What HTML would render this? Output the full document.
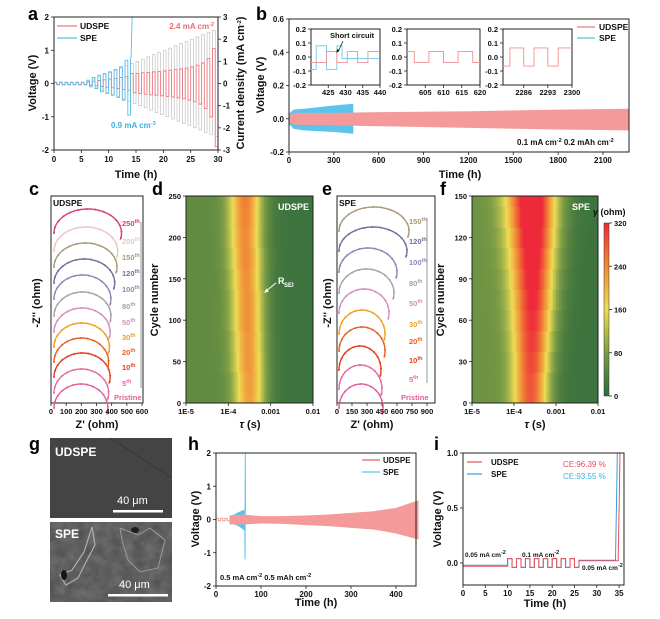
<!DOCTYPE html>
<html><head><meta charset="utf-8"><style>
html,body{margin:0;padding:0;background:#fff;width:660px;height:619px;overflow:hidden}
svg text{font-family:"Liberation Sans",Arial,sans-serif}
</style></head><body>
<svg id="fig" width="660" height="619" viewBox="0 0 660 619" xmlns="http://www.w3.org/2000/svg">
<defs>
<filter id="semNoise" x="0" y="0" width="1" height="1"><feTurbulence type="fractalNoise" baseFrequency="0.09" numOctaves="3" seed="4"/><feColorMatrix type="matrix" values="0 0 0 0 0.55  0 0 0 0 0.55  0 0 0 0 0.55  0 0 0 0.35 0"/><feComposite in2="SourceGraphic" operator="in"/></filter>
<linearGradient id="cbar" x1="0" y1="1" x2="0" y2="0"><stop offset="0" stop-color="#2e6a3c"/><stop offset="0.25" stop-color="#7c9c45"/><stop offset="0.5" stop-color="#eedd55"/><stop offset="0.75" stop-color="#f08a35"/><stop offset="1" stop-color="#ee2a3a"/></linearGradient>
<clipPath id="clipD"><rect x="186" y="196" width="127" height="207"/></clipPath>
<clipPath id="clipF"><rect x="472" y="196" width="126" height="207"/></clipPath>
</defs>
<rect x="0" y="0" width="660" height="619" fill="#fff"/>
</svg>
<script>
// ---------- data ----------
// panel a (per hour 0..29)
const aCurrent=[0.05,0.05,0.05,0.05,0.05,0.05,0.1,0.2,0.3,0.4,0.5,0.6,0.7,0.8,0.9,1.0,1.1,1.2,1.3,1.4,1.5,1.6,1.7,1.8,1.9,2.0,2.1,2.2,2.3,2.4];
const aUdPos=[0.03,0.03,0.03,0.03,0.03,0.03,0.05,0.07,0.09,0.11,0.13,0.15,0.18,0.2,0.3,0.3,0.32,0.33,0.35,0.36,0.38,0.4,0.42,0.44,0.46,0.5,0.55,0.62,0.75,1.05];
const aUdNeg=[-0.03,-0.03,-0.03,-0.03,-0.03,-0.03,-0.05,-0.07,-0.09,-0.11,-0.13,-0.15,-0.18,-0.2,-0.28,-0.3,-0.32,-0.34,-0.35,-0.37,-0.39,-0.41,-0.43,-0.46,-0.5,-0.55,-0.62,-0.75,-1.0,-1.9];
const aSpePos=[0.04,0.04,0.04,0.04,0.04,0.04,0.1,0.18,0.25,0.3,0.35,0.42,0.5,0.7];
const aSpeNeg=[-0.04,-0.04,-0.04,-0.04,-0.04,-0.04,-0.1,-0.15,-0.25,-0.3,-0.35,-0.42,-0.5,-0.95];
const aSpeTailT=[14.0,14.1,14.3];
const aSpeTailV=[0.75,0.8,2.0];
// panel b
const bSpeT=[0,30,100,200,300,430];
const bSpeHi=[0.03,0.055,0.06,0.07,0.08,0.09];
const bSpeLo=[-0.03,-0.06,-0.07,-0.075,-0.08,-0.09];
const bUdT=[0,30,300,600,1200,1800,2274];
const bUdHi=[0.02,0.035,0.035,0.04,0.045,0.055,0.06];
const bUdLo=[-0.02,-0.035,-0.04,-0.045,-0.055,-0.065,-0.07];
const bIn1T=[420,421.5,424.5,427.5,430.5,433.5,436.5,440];
const bIn1Red=[-0.04,-0.04,0.04,-0.04,0.04,-0.04,0.04];
const bIn1BlueT=[420,421.5,424.5,427.5,429,440];
const bIn1Blue=[-0.09,0.08,-0.09,0.08,-0.01];
const bIn2T=[600,602,606,610,614,618,620];
const bIn2Red=[0.04,-0.04,0.04,-0.04,0.04,-0.04];
const bIn3T=[2280,2282,2286,2289,2293,2296,2300];
const bIn3Red=[-0.065,0.065,-0.065,0.065,-0.065,0.065];
// panel c / e (Nyquist arcs)
const cLabels=['Pristine','5','10','20','30','50','80','100','120','150','200','250'];
const cEnd=[375,380,390,380,385,390,395,395,420,435,440,465];
const cColors=['#e0609a','#e86aa0','#e0401e','#e86020','#f0a020','#d090c0','#a8a0a8','#8a88b4','#70709c','#a89a78','#f2c4c4','#d8406e'];
const eLabels=['Pristine','5','10','20','30','50','80','100','120','150'];
const eEnd=[460,450,440,480,480,520,570,600,700,720];
const eColors=['#e0609a','#e86aa0','#e0401e','#e86020','#f0a020','#d090c0','#a8a0a8','#8a88b4','#70709c','#a89a78'];
// panel d / f (DRT heatmaps)
const dCycles=[0,25,50,75,100,125,150,175,200,225,250];
const dCenter=[-3.5,-3.5,-3.52,-3.53,-3.55,-3.55,-3.57,-3.58,-3.6,-3.6,-3.6];
const dAmp=[170,175,180,180,185,185,185,190,190,195,200];
const dWidth=[0.36,0.36,0.37,0.37,0.37,0.37,0.37,0.38,0.38,0.38,0.38];
const fCycles=[0,15,30,45,60,75,90,105,120,135,150];
const fCenter=[-3.6,-3.6,-3.58,-3.57,-3.56,-3.55,-3.55,-3.55,-3.55,-3.56,-3.57];
const fAmp=[220,225,235,245,255,265,275,285,300,315,320];
const fWidth=[0.42,0.42,0.43,0.45,0.47,0.49,0.51,0.53,0.55,0.57,0.58];
// panel h
const hUdT=[30,60,100,150,200,250,300,350,400,450];
const hUdHi=[0.12,0.15,0.1,0.1,0.12,0.15,0.2,0.25,0.35,0.58];
const hUdLo=[-0.15,-0.15,-0.12,-0.13,-0.17,-0.2,-0.25,-0.3,-0.42,-0.6];
const hEarlyT=[0,5,5,10,10,15,15,20,20,25,25,30];
const hEarlyV=[0.04,0.04,-0.04,-0.04,0.04,0.04,-0.04,-0.04,0.04,0.04,-0.04,-0.04];
const hSpeT=[30,40,50,60,64];
const hSpeHi=[0.08,0.15,0.22,0.28,0.3];
const hSpeLo=[-0.08,-0.15,-0.2,-0.3,-0.35];
const hSpikeT=[64,64.5,65,65.5];
const hSpikeV=[-0.4,-1.2,2.0,0.3];
// panel i
const iSegT=[0,10,11,12,13,14,15,16,17,18,19,20,21,22,23,24,25,26];
const iUdLevel=[-0.03,0.04,-0.04,0.04,-0.04,0.04,-0.04,0.04,-0.04,0.04,-0.04,0.04,-0.04,0.04,-0.04,0.04,-0.04,0.02];
const iSpeLevel=[-0.02,0.04,-0.04,0.04,-0.04,0.04,-0.04,0.04,-0.04,0.04,-0.04,0.04,-0.04,0.04,-0.04,0.04,-0.04,0.025];
const iUdRiseT=[34.8,35.0,35.2];
const iUdRiseV=[0.05,0.5,1.0];
const iSpeRiseT=[34.2,34.4,34.6];
const iSpeRiseV=[0.05,0.5,1.0];

// ---------- helpers ----------
const NS='http://www.w3.org/2000/svg';
const svg=document.getElementById('fig');
function mk(tag,attrs,parent){const e=document.createElementNS(NS,tag);for(const k in attrs)e.setAttribute(k,attrs[k]);(parent||svg).appendChild(e);return e;}
function tx(x,y,s,o){o=o||{};const e=mk('text',{x:x,y:y,'font-size':o.fs||8,'font-weight':o.fw||'bold','text-anchor':o.a||'start',fill:o.c||'#111'});if(o.rot)e.setAttribute('transform','rotate('+o.rot+' '+x+' '+y+')');e.innerHTML=s;return e;}
function frame(x0,y0,x1,y1,name){const r=mk('rect',{x:x0,y:y0,width:x1-x0,height:y1-y0,fill:'none',stroke:'#222','stroke-width':1});


return r;}
function tickX(vals,fx,y,labs,fs,ly){vals.forEach((v,i)=>{mk('line',{x1:fx(v),x2:fx(v),y1:y,y2:y+3,stroke:'#222','stroke-width':0.8});const t=tx(fx(v),ly,labs[i],{a:'middle',fs:fs||8});

});}
function tickY(vals,fy,x,labs,side,fs){vals.forEach((v,i)=>{const d=side==='r'?3:-3;mk('line',{x1:x,x2:x+d,y1:fy(v),y2:fy(v),stroke:'#222','stroke-width':0.8});const t=tx(side==='r'?x+5:x-5,fy(v)+3,labs[i],{a:side==='r'?'start':'end',fs:fs||8});

});}
function letter(x,y,s){const t=tx(x,y,s,{fs:18,c:'#000'});

}
function sup(s){return '<tspan baseline-shift="super" font-size="5.5">'+s+'</tspan>';}
function sqPath(T,L,fx,fy){let d='';for(let i=0;i<L.length;i++){d+=(i?'L':'M')+fx(T[i])+' '+fy(L[i])+'L'+fx(T[i+1])+' '+fy(L[i]);}return d;}
function band(T,H,Lo,fx,fy){let d='M';T.forEach((t,i)=>{d+=(i?'L':'')+fx(t)+' '+fy(H[i]);});for(let i=T.length-1;i>=0;i--)d+='L'+fx(T[i])+' '+fy(Lo[i]);return d+'Z';}
const cmStops=[[0,[46,106,60]],[80,[124,156,69]],[160,[238,221,85]],[240,[240,138,53]],[320,[238,42,58]]];
function cmap(v){v=Math.max(0,Math.min(320,v));for(let i=1;i<cmStops.length;i++){if(v<=cmStops[i][0]){const a=cmStops[i-1],b=cmStops[i],f=(v-a[0])/(b[0]-a[0]);return 'rgb('+a[1].map((c,k)=>Math.round(c+(b[1][k]-c)*f)).join(',')+')';}}return 'rgb(238,42,58)';}

// ---------- panel a ----------
letter(28,20,'a');
const xa=t=>54+t/30*164, ya=v=>83.5-v*33.25, yc=c=>83.5-c*22.17;
let dg='';aCurrent.forEach((c,k)=>{dg+=(k?'L':'M')+xa(k)+' '+yc(c)+'L'+xa(k+0.5)+' '+yc(c)+'L'+xa(k+0.5)+' '+yc(-c)+'L'+xa(k+1)+' '+yc(-c);});
const ag=mk('path',{d:dg,fill:'none',stroke:'#b8b8b8','stroke-width':0.6});


let du='';aUdPos.forEach((p,k)=>{du+=(k?'L':'M')+xa(k)+' '+ya(p)+'L'+xa(k+0.5)+' '+ya(p)+'L'+xa(k+0.5)+' '+ya(aUdNeg[k])+'L'+xa(k+1)+' '+ya(aUdNeg[k]);});
const au=mk('path',{d:du,fill:'none',stroke:'#ec7a80','stroke-width':0.9});


let ds='';aSpePos.forEach((p,k)=>{ds+=(k?'L':'M')+xa(k)+' '+ya(p)+'L'+xa(k+0.5)+' '+ya(p)+'L'+xa(k+0.5)+' '+ya(aSpeNeg[k])+'L'+xa(k+1)+' '+ya(aSpeNeg[k]);});
aSpeTailT.forEach((t,i)=>{ds+='L'+xa(t)+' '+ya(aSpeTailV[i]);});
const as=mk('path',{d:ds,fill:'none',stroke:'#58bfe8','stroke-width':0.9});


mk('rect',{x:54,y:0,width:170,height:17,fill:'#fff'});
mk('rect',{x:54,y:150.5,width:170,height:8,fill:'#fff'});
frame(54,17,218,150,'plot-area-a');
tickX([0,5,10,15,20,25,30],xa,150,['0','5','10','15','20','25','30'],8,162);
tickY([-2,-1,0,1,2],ya,54,['-2','-1','0','1','2'],'l');
tickY([-3,-2,-1,0,1,2,3],yc,218,['-3','-2','-1','0','1','2','3'],'r');
tx(36,83,'Voltage (V)',{a:'middle',fs:11,rot:-90});
tx(244,83,'Current density (mA cm'+sup('-2')+')',{a:'middle',fs:11,rot:-90});
tx(136,178,'Time (h)',{a:'middle',fs:11});
mk('line',{x1:57,x2:77,y1:26,y2:26,stroke:'#ec7a80','stroke-width':1.2});
mk('line',{x1:57,x2:77,y1:38,y2:38,stroke:'#58bfe8','stroke-width':1.2});
tx(80,29,'UDSPE',{fs:8.5});tx(80,41,'SPE',{fs:8.5});
tx(214,29,'2.4 mA cm'+sup('-2'),{a:'end',fs:8,c:'#ec6a70'});
tx(111,128,'0.9 mA cm'+sup('-3'),{fs:8,c:'#3fb0e0'});

// ---------- panel b ----------
letter(256,20,'b');
const xb=t=>289+t*0.1495, yb=v=>19+(0.6-v)*166.25;
const bs=mk('path',{d:band(bSpeT,bSpeHi,bSpeLo,xb,yb),fill:'#5bc3ec'});


const bu=mk('path',{d:band(bUdT,bUdHi,bUdLo,xb,yb),fill:'#f59a9a'});


frame(289,19,629,152,'plot-area-b');
tickX([0,300,600,900,1200,1500,1800,2100],xb,152,['0','300','600','900','1200','1500','1800','2100'],8,163);
tickY([-0.2,0,0.2,0.4,0.6],yb,289,['-0.2','0.0','0.2','0.4','0.6'],'l');
tx(264,85,'Voltage (V)',{a:'middle',fs:11,rot:-90});
tx(460,178,'Time (h)',{a:'middle',fs:11});
mk('line',{x1:577,x2:595,y1:27,y2:27,stroke:'#ec7a80','stroke-width':1.2});
mk('line',{x1:577,x2:595,y1:38,y2:38,stroke:'#58bfe8','stroke-width':1.2});
tx(599,30,'UDSPE',{fs:8.5});tx(599,41,'SPE',{fs:8.5});
tx(517,145,'0.1 mA cm'+sup('-2')+' 0.2 mAh cm'+sup('-2'),{fs:8});
function inset(x0,x1,t0,t1,ticks,name){const fx=t=>x0+(t-t0)/(t1-t0)*(x1-x0), fy=v=>57-v*140;
frame(x0,29,x1,85,name);
tickY([-0.2,-0.1,0,0.1,0.2],fy,x0,['-0.2','-0.1','0.0','0.1','0.2'],'l',7.5);
tickX(ticks,fx,85,ticks.map(String),7.5,95);return [fx,fy];}
let f1=inset(311,380,420,440,[425,430,435,440],'inset-1');
const i1b=mk('path',{d:sqPath(bIn1BlueT,bIn1Blue,f1[0],f1[1]),fill:'none',stroke:'#6cc8ee','stroke-width':0.9});


const i1r=mk('path',{d:sqPath(bIn1T,bIn1Red,f1[0],f1[1]),fill:'none',stroke:'#f09090','stroke-width':0.9});


tx(330,38,'Short circuit',{fs:7.5});
mk('line',{x1:343,x2:338,y1:41,y2:52,stroke:'#111','stroke-width':0.7});
mk('path',{d:'M336.5 53 L337 49 L339.6 50.2Z',fill:'#111'});
let f2=inset(407,480,600,620,[605,610,615,620],'inset-2');
const i2r=mk('path',{d:sqPath(bIn2T,bIn2Red,f2[0],f2[1]),fill:'none',stroke:'#f09090','stroke-width':0.9});


let f3=inset(503,572,2280,2300,[2286,2293,2300],'inset-3');
const i3r=mk('path',{d:sqPath(bIn3T,bIn3Red,f3[0],f3[1]),fill:'none',stroke:'#f09090','stroke-width':0.9});



// ---------- panels c / e ----------
function nyq(x0,x1,pxPerOhm,tops,ends,cols,labs,labX,name){
 ends.forEach((ze,i)=>{const xs=x0+20*pxPerOhm, xe=x0+ze*pxPerOhm, cx=(xs+xe)/2, rx=(xe-xs)/2, ry=24, base=tops[i]+ry;
  let d='';const pts=[];for(let k=0;k<=40;k++){const th=Math.PI*(1-k/40*1.09);const x=cx+rx*Math.cos(th), y=base-ry*Math.sin(th);d+=(k?'L':'M')+x.toFixed(1)+' '+y.toFixed(1);if(k%3===0)pts.push([x,y]);}
  const p=mk('path',{d:d,fill:'none',stroke:cols[i],'stroke-width':1.4});
  
  
  pts.forEach(q=>mk('circle',{cx:q[0],cy:q[1],r:1,fill:cols[i]}));
  const t=labs[i]==='Pristine'?tx(labX-8,400,'Pristine',{fs:7.5,c:cols[i]}):tx(labX,tops[i]+17,labs[i]+sup('th'),{fs:7.5,c:cols[i]});
  
  
 });}
letter(29,195,'c');
frame(51,196,143,403,'plot-area-c');
const cTops=[384,369,353,338,323,308,292,275,259,243,227,209];
nyq(51,143,0.1517,cTops,cEnd,cColors,cLabels,122,'c');
mk('line',{x1:141,x2:141,y1:222,y2:388,stroke:'#999','stroke-width':1});
tx(53,206,'UDSPE',{fs:8.5});
tickX([0,100,200,300,400,500,600],z=>51+z*0.1517,403,['0','100','200','300','400','500','600'],7.5,414);
tx(40,303,'-Z\'\' (ohm)',{a:'middle',fs:11,rot:-90});
tx(97,428,'Z\' (ohm)',{a:'middle',fs:11});
letter(322,195,'e');
frame(337,196,435,403,'plot-area-e');
const eTops=[384,365,346,327,310,289,269,248,227,207];
nyq(337,435,0.1,eTops,eEnd,eColors,eLabels,409,'e');
mk('line',{x1:427,x2:427,y1:218,y2:383,stroke:'#999','stroke-width':1});
tx(339,206,'SPE',{fs:8.5});
tickX([0,150,300,450,600,750,900],z=>337+z*0.1,403,['0','150','300','450','600','750','900'],7.5,414);
tx(331,303,'-Z\'\' (ohm)',{a:'middle',fs:11,rot:-90});
tx(372,428,'Z\' (ohm)',{a:'middle',fs:11});

// ---------- panels d / f ----------
function heat(x0,x1,cyc,cen,amp,wid,cmax,baseL,clip,name){
 const g=mk('g',{'clip-path':'url(#'+clip+')'});
 
 
 const fy=c=>403-c/cmax*207;
 const nc=Math.round((x1-x0)/1.5);
 cyc.forEach((c,i)=>{const yTop=i===cyc.length-1?196:fy((c+cyc[i+1])/2), yBot=i===0?403:fy((c+cyc[i-1])/2);
  for(let j=0;j<nc;j++){const l=-5+(j+0.5)/nc*3;const v=15+baseL/(1+Math.exp((l+3.2)*6))+amp[i]*Math.exp(-Math.pow((l-cen[i])/wid[i],2));
   mk('rect',{x:(x0+j*1.5).toFixed(1),y:yTop.toFixed(1),width:1.8,height:(yBot-yTop+0.6).toFixed(1),fill:cmap(v)},g);}
 });}
letter(152,195,'d');
heat(186,313,dCycles,dCenter,dAmp,dWidth,250,38,'clipD','d');
frame(186,196,313,403,'plot-area-d');
tickX([-5,-4,-3,-2],l=>186+(l+5)*42.33,403,['1E-5','1E-4','0.001','0.01'],7.5,414);
tickY([0,50,100,150,200,250],c=>403-c/250*207,186,['0','50','100','150','200','250'],'l',7.5);
tx(158,300,'Cycle number',{a:'middle',fs:11,rot:-90});
tx(250,428,'<tspan font-style="italic">τ</tspan> (s)',{a:'middle',fs:11});
tx(278,210,'UDSPE',{fs:9,c:'#fff'});
tx(278,284,'R',{fs:9,c:'#fff'});tx(284,287,'SEI',{fs:6,c:'#fff'});
mk('line',{x1:276,x2:266,y1:283,y2:291,stroke:'#fff','stroke-width':1});
mk('path',{d:'M264 293 L266.5 288.5 L268.8 291.5Z',fill:'#fff'});
letter(440,195,'f');
heat(472,598,fCycles,fCenter,fAmp,fWidth,150,50,'clipF','f');
frame(472,196,598,403,'plot-area-f');
tickX([-5,-4,-3,-2],l=>472+(l+5)*42,403,['1E-5','1E-4','0.001','0.01'],7.5,414);
tickY([0,30,60,90,120,150],c=>403-c/150*207,472,['0','30','60','90','120','150'],'l',7.5);
tx(444,300,'Cycle number',{a:'middle',fs:11,rot:-90});
tx(535,428,'<tspan font-style="italic">τ</tspan> (s)',{a:'middle',fs:11});
tx(572,210,'SPE',{fs:9,c:'#fff'});
const cb=mk('rect',{x:604,y:223,width:5,height:173,fill:'url(#cbar)',stroke:'#333','stroke-width':0.5});


tickY([0,80,160,240,320],v=>396-v/320*173,609,['0','80','160','240','320'],'r',7.5);
tx(593,215,'<tspan font-style="italic">γ</tspan> (ohm)',{fs:9});

// ---------- panel g (SEM) ----------
letter(29,450,'g');
const g1=mk('rect',{x:50,y:438,width:122,height:80,fill:'#444'});


mk('line',{x1:110,x2:172,y1:438,y2:478,stroke:'#383838','stroke-width':1});
const g2=mk('rect',{x:50,y:522,width:122,height:80,fill:'#4a4a4a'});


mk('rect',{x:50,y:522,width:122,height:80,fill:'#fff',filter:'url(#semNoise)'});
mk('path',{d:'M92 527 L95 545 L86 562 L78 578 L66 585 L60 575 L72 570 L84 552Z',fill:'none',stroke:'#b0b0b0','stroke-width':1.2});
mk('path',{d:'M120 528 L138 535 L150 528 L165 540 L158 568 L140 572 L128 560 L122 540Z',fill:'none',stroke:'#9a9a9a','stroke-width':1});
mk('ellipse',{cx:64,cy:575,rx:3,ry:5,fill:'#151515'});
mk('ellipse',{cx:135,cy:530,rx:4,ry:3,fill:'#1d1d1d'});
tx(55,456,'UDSPE',{fs:12,c:'#fff'});
tx(117,504,'40 μm',{fs:11,c:'#fff',fw:'normal'});
mk('rect',{x:113,y:510,width:50,height:2.5,fill:'#fff'});
tx(55,538,'SPE',{fs:12,c:'#fff'});
tx(119,588,'40 μm',{fs:11,c:'#fff',fw:'normal'});
mk('rect',{x:108,y:594,width:60,height:2.5,fill:'#fff'});

// ---------- panel h ----------
letter(188,450,'h');
const xh=t=>216+t*0.45, yh=v=>519.5-v*33.25;
const he=mk('polyline',{points:hEarlyT.map((t,i)=>xh(t)+','+yh(hEarlyV[i])).join(' '),fill:'none',stroke:'#f09090','stroke-width':0.9});


const hs=mk('path',{d:band(hSpeT,hSpeHi,hSpeLo,xh,yh),fill:'#5bc3ec'});


const hsp=mk('polyline',{points:hSpikeT.map((t,i)=>xh(t)+','+yh(hSpikeV[i])).join(' '),fill:'none',stroke:'#5bc3ec','stroke-width':1});


const hu=mk('path',{d:band(hUdT,hUdHi,hUdLo,xh,yh),fill:'#f59a9a'});


frame(216,453,416,586,'plot-area-h');
tickX([0,100,200,300,400],xh,586,['0','100','200','300','400'],8,597);
tickY([-2,-1,0,1,2],yh,216,['-2','-1','0','1','2'],'l');
tx(199,519,'Voltage (V)',{a:'middle',fs:11,rot:-90});
tx(316,606,'Time (h)',{a:'middle',fs:11});
mk('line',{x1:362,x2:380,y1:460,y2:460,stroke:'#f59a9a','stroke-width':2});
mk('line',{x1:362,x2:380,y1:472,y2:472,stroke:'#5bc3ec','stroke-width':1.2});
tx(383,463,'UDSPE',{fs:8});tx(383,475,'SPE',{fs:8});
tx(220,580,'0.5 mA cm'+sup('-2')+' 0.5 mAh cm'+sup('-2'),{fs:7.5});

// ---------- panel i ----------
letter(434,450,'i');
const xi=t=>463+t*4.46, yi=v=>563-v*110;
let dsI=sqPath(iSegT.concat([iSpeRiseT[0]]),iSpeLevel,xi,yi);iSpeRiseT.forEach((t,k)=>{dsI+='L'+xi(t)+' '+yi(iSpeRiseV[k]);});
const isp=mk('path',{d:dsI,fill:'none',stroke:'#3a9ad8','stroke-width':1});


let duI='M'+xi(0)+' '+yi(1.0)+sqPath(iSegT.concat([iUdRiseT[0]]),iUdLevel,xi,yi).replace(/^M/,'L');iUdRiseT.forEach((t,k)=>{duI+='L'+xi(t)+' '+yi(iUdRiseV[k]);});
const iud=mk('path',{d:duI,fill:'none',stroke:'#e8505a','stroke-width':1});


frame(463,453,624,585,'plot-area-i');
tickX([0,5,10,15,20,25,30,35],xi,585,['0','5','10','15','20','25','30','35'],8,596);
tickY([0,0.5,1.0],yi,463,['0.0','0.5','1.0'],'l');
tx(441,519,'Voltage (V)',{a:'middle',fs:11,rot:-90});
tx(545,607,'Time (h)',{a:'middle',fs:11});
mk('line',{x1:467,x2:482,y1:462,y2:462,stroke:'#e8505a','stroke-width':1.2});
mk('line',{x1:467,x2:482,y1:474,y2:474,stroke:'#3a9ad8','stroke-width':1.2});
tx(491,465,'UDSPE',{fs:8});tx(491,477,'SPE',{fs:8});
tx(563,467,'CE:96.39 %',{fs:8,c:'#e8505a',fw:'normal'});
tx(563,479,'CE:93.55 %',{fs:8,c:'#3fb0e0',fw:'normal'});
tx(465,557,'0.05 mA cm'+sup('-2'),{fs:6.5});
tx(522,557,'0.1 mA cm'+sup('-2'),{fs:6.5});
tx(582,570,'0.05 mA cm'+sup('-2'),{fs:6.5});
</script>
</body></html>
